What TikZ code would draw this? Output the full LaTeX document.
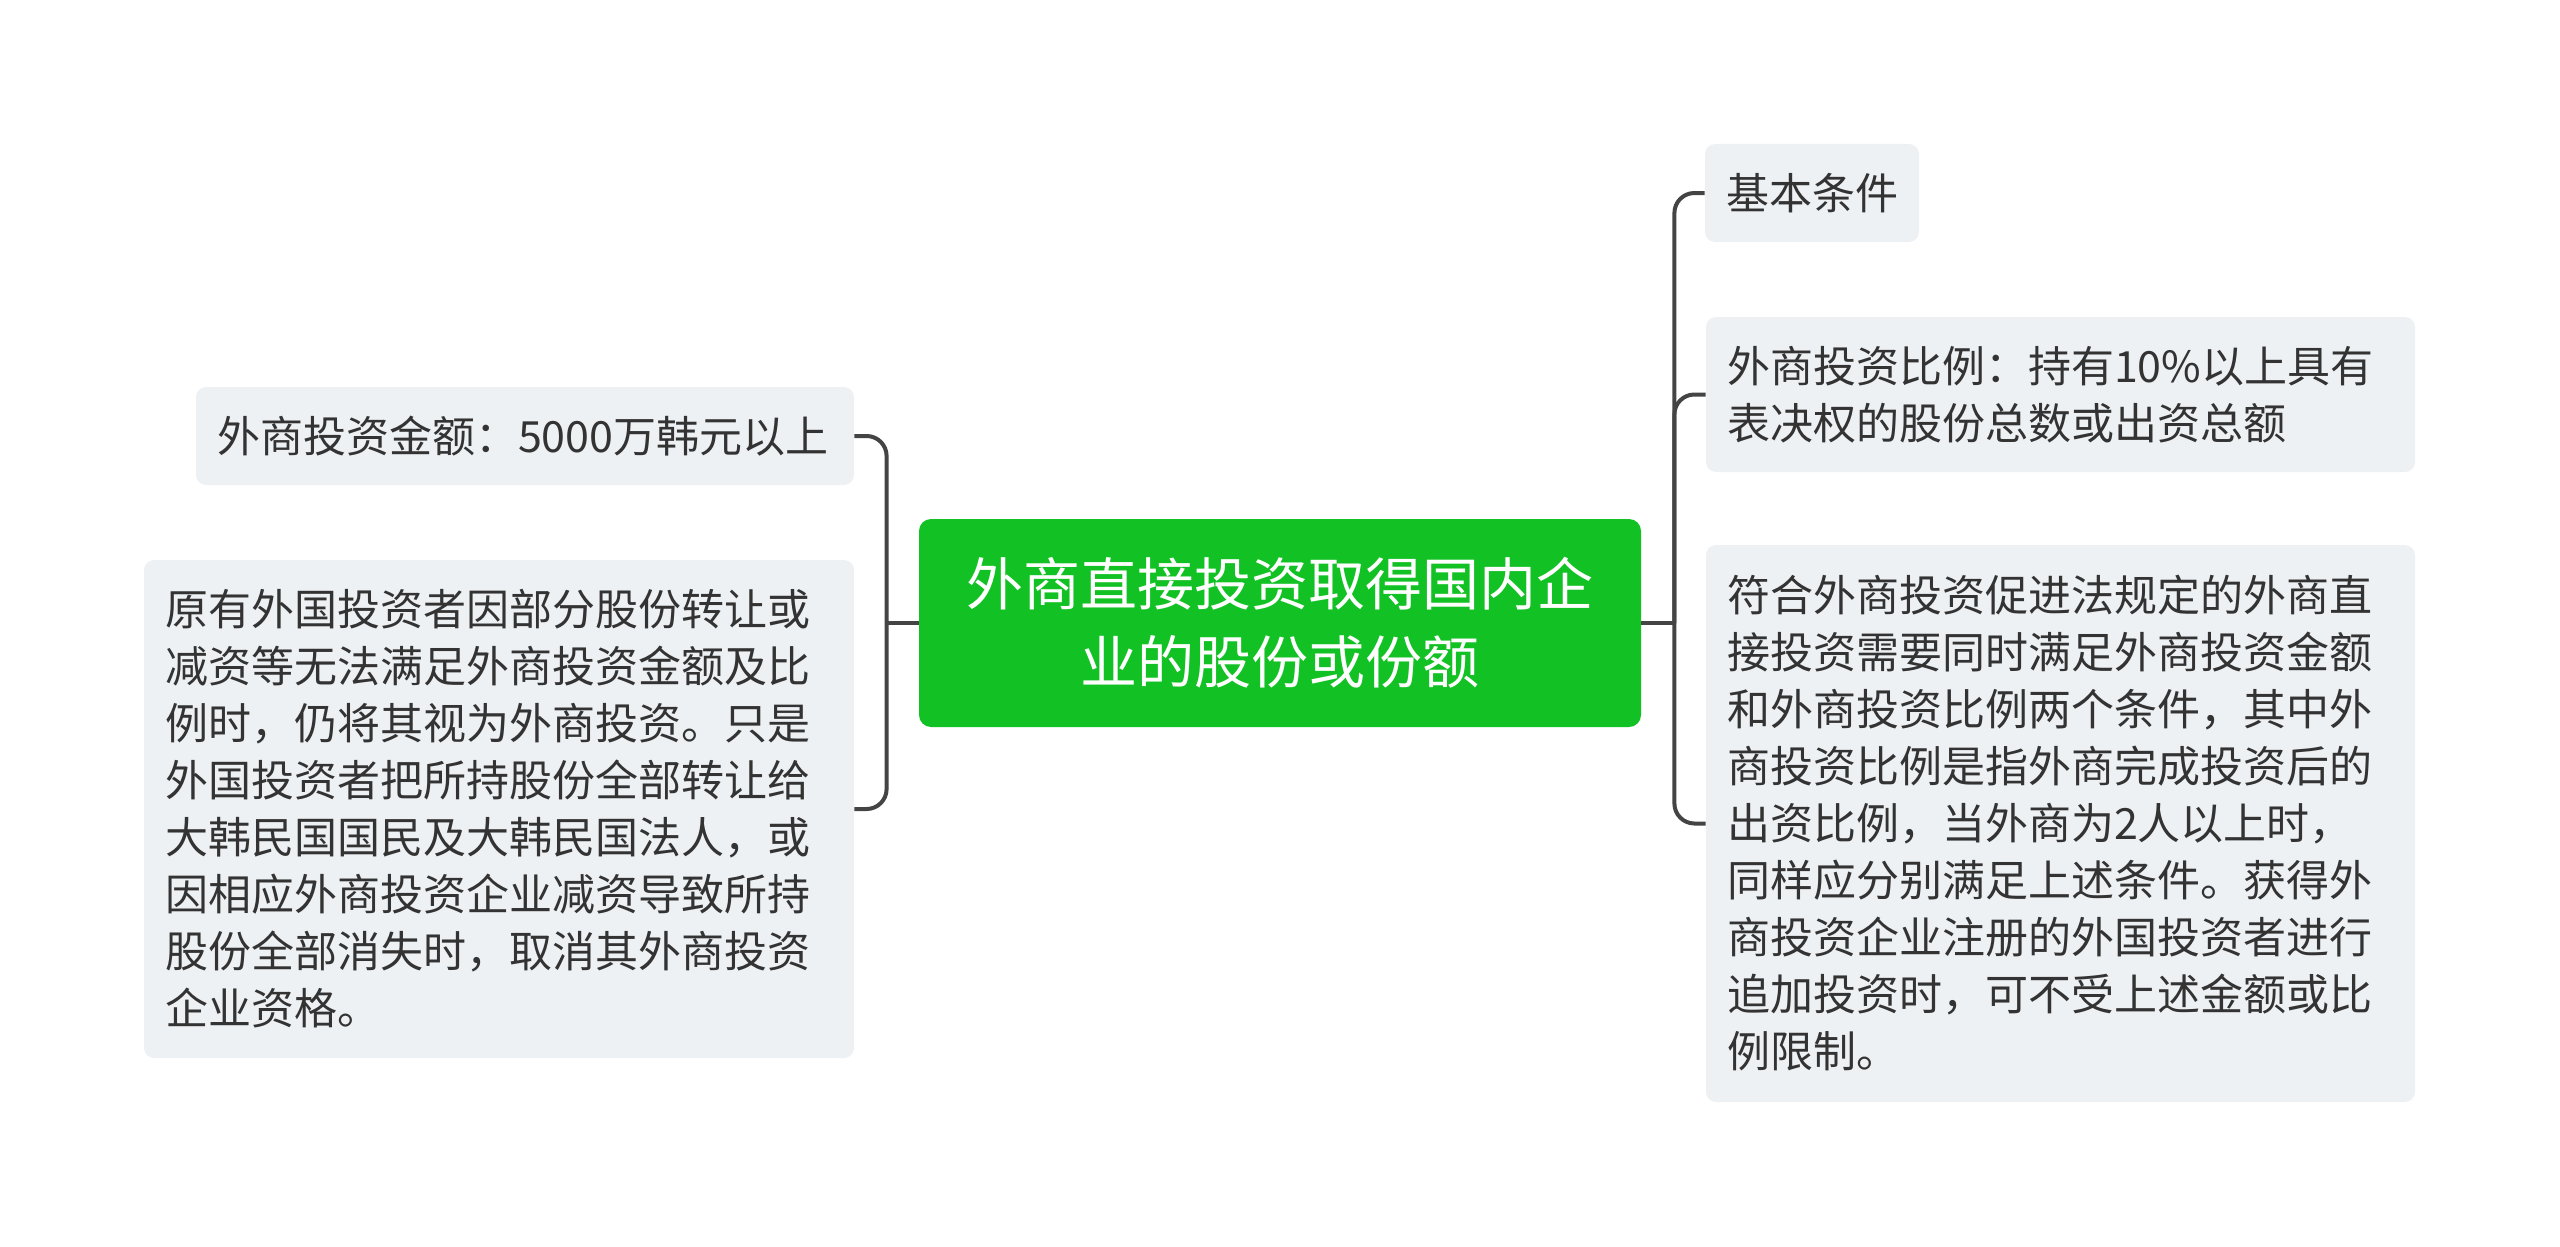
\documentclass[tikz,border=0pt]{standalone}
\usepackage{fontspec}
\setmainfont{Noto Sans CJK SC}
\usepackage{tikz}
\usetikzlibrary{positioning}
\definecolor{topicgreen}{RGB}{18,193,35}
\definecolor{leafgray}{RGB}{238,241,244}
\definecolor{inkgray}{RGB}{51,51,51}
\definecolor{stemgray}{RGB}{68,68,68}

\begin{document}
\begin{tikzpicture}[x=1pt, y=-1pt,
    topic/.style={fill=topicgreen, text=white, rounded corners=6pt, align=center,
        font=\fontsize{28.5pt}{39pt}\selectfont, minimum width=361pt, minimum height=104pt, inner sep=0pt},
    leaf/.style={fill=leafgray, text=inkgray, rounded corners=5pt, align=left,
        font=\fontsize{21.5pt}{28.5pt}\selectfont, inner xsep=10.5pt, inner ysep=0pt},
    branch/.style={draw=stemgray, line width=2pt, rounded corners=10pt}]
    \useasboundingbox (0,0) rectangle (1280,623.5);

    % Central topic
    \node[topic] (c) at (640,311.5) {外商直接投资取得国内企\\业的股份或份额};

    % Left side
    \node[leaf, text width=308pt, minimum height=49pt] (l1) at (262.5,218)
        {外商投资金额：5000万韩元以上};
    \node[leaf, text width=334pt, minimum height=249pt] (l2) at (249.5,404.5)
        {原有外国投资者因部分股份转让或\\减资等无法满足外商投资金额及比\\例时，仍将其视为外商投资。只是\\外国投资者把所持股份全部转让给\\大韩民国国民及大韩民国法人，或\\因相应外商投资企业减资导致所持\\股份全部消失时，取消其外商投资\\企业资格。};

    % Right side
    \node[leaf, text width=86pt, minimum height=49pt] (r1) at (906,96.5) {基本条件};
    \node[leaf, text width=333.5pt, minimum height=77.5pt] (r2) at (1030.25,197.25)
        {外商投资比例：持有10\%以上具有\\表决权的股份总数或出资总额};
    \node[leaf, text width=333.5pt, minimum height=278.5pt] (r3) at (1030.25,411.75)
        {符合外商投资促进法规定的外商直\\接投资需要同时满足外商投资金额\\和外商投资比例两个条件，其中外\\商投资比例是指外商完成投资后的\\出资比例，当外商为2人以上时，\\同样应分别满足上述条件。获得外\\商投资企业注册的外国投资者进行\\追加投资时，可不受上述金额或比\\例限制。};

    % Connectors
    \coordinate[left=16pt of c.west] (jl);
    \coordinate[right=16.5pt of c.east] (jr);
    \draw[branch] (c.west) -- (jl);
    \draw[branch] (c.east) -- (jr);
    \foreach \n in {l1,l2} {
        \draw[branch] (jl) |- (\n.east);
    }
    \foreach \n in {r1,r2,r3} {
        \draw[branch] (jr) |- (\n.west);
    }
\end{tikzpicture}
\end{document}
